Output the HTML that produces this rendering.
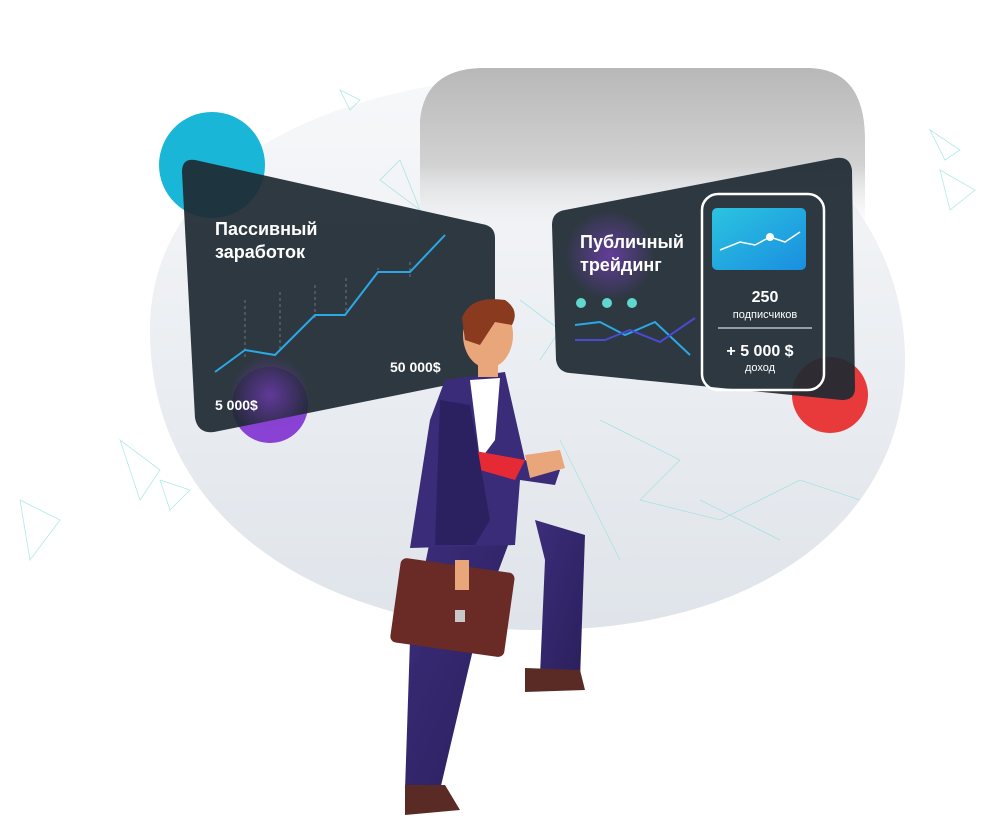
<!DOCTYPE html>
<html><head><meta charset="utf-8">
<style>
html,body{margin:0;padding:0;background:#fff;}
svg{display:block;}
text{font-family:"Liberation Sans",sans-serif;}
</style></head>
<body>
<svg width="986" height="830" viewBox="0 0 986 830" xmlns="http://www.w3.org/2000/svg">
<defs>
<linearGradient id="bg" x1="0" y1="0" x2="0" y2="1">
<stop offset="0" stop-color="#f7f8fa"/><stop offset="1" stop-color="#dfe4ea"/>
</linearGradient>
<linearGradient id="top" x1="0" y1="0" x2="0" y2="1">
<stop offset="0" stop-color="#b8b8b8"/><stop offset="0.6" stop-color="#d2d2d2"/><stop offset="1" stop-color="#eceef1" stop-opacity="0"/>
</linearGradient>
<linearGradient id="card" x1="0" y1="0" x2="1" y2="1">
<stop offset="0" stop-color="#2bc4e0"/><stop offset="1" stop-color="#1a8ee0"/>
</linearGradient>
<linearGradient id="suit" x1="0" y1="0" x2="1" y2="1">
<stop offset="0" stop-color="#3c2d7a"/><stop offset="1" stop-color="#2a1f5c"/>
</linearGradient>
<radialGradient id="glow" cx="0.5" cy="0.5" r="0.5">
<stop offset="0" stop-color="#7a3fc0" stop-opacity="0.7"/><stop offset="1" stop-color="#7a3fc0" stop-opacity="0"/>
</radialGradient>
</defs>
<path d="M520 75 C760 60 905 200 905 360 C905 520 760 630 540 630 C320 630 150 520 150 330 C150 180 300 90 520 75Z" fill="url(#bg)"/>
<path d="M480 68 L810 68 Q865 70 865 140 L865 230 L420 230 L420 120 Q425 70 480 68Z" fill="url(#top)"/>
<g stroke="#8fe0e0" stroke-width="0.8" fill="none" opacity="0.7">
<path d="M340 90 L360 100 L350 110Z M380 180 L420 210 L400 160Z M930 130 L960 150 L945 160Z M940 170 L975 190 L950 210Z M120 440 L160 470 L140 500Z M20 500 L60 520 L30 560Z M160 480 L190 490 L170 510Z M600 420 L680 460 L640 500 L720 520 L800 480 L860 500 M560 440 L620 560 M700 500 L780 540 M520 300 L560 330 L540 360"/>
</g>
<circle cx="212" cy="165" r="53" fill="#19b6d8"/>
<circle cx="270" cy="405" r="38" fill="#8a42d4"/>
<path d="M195 160 Q182 158 182 172 L195 418 Q198 434 214 432 L482 378 Q495 375 495 362 L495 238 Q495 226 482 224 Z" fill="#1f2a33" opacity="0.93"/>
<circle cx="270" cy="395" r="40" fill="url(#glow)"/>
<g stroke="#6b7780" stroke-width="1" stroke-dasharray="3 3">
<path d="M245 300 L245 360 M280 292 L280 350 M315 285 L315 318 M346 278 L346 315 M378 270 L378 268 M410 262 L410 278"/>
</g>
<polyline points="215,372 245,350 275,355 315,315 345,315 378,272 410,272 445,235" fill="none" stroke="#2aa9e6" stroke-width="2"/>
<text x="215" y="235" fill="#fff" font-size="18" font-weight="600">Пассивный</text>
<text x="215" y="258" fill="#fff" font-size="18" font-weight="600">заработок</text>
<text x="215" y="410" fill="#fff" font-size="14" font-weight="bold">5 000$</text>
<text x="390" y="372" fill="#fff" font-size="14" font-weight="bold">50 000$</text>
<circle cx="830" cy="395" r="38" fill="#e83a3a"/>
<path d="M565 210 Q552 212 552 225 L556 360 Q558 372 570 373 L842 400 Q855 400 855 388 L852 170 Q850 156 836 158 Z" fill="#1f2a33" opacity="0.93"/>
<circle cx="610" cy="255" r="45" fill="url(#glow)"/>
<text x="580" y="248" fill="#fff" font-size="18" font-weight="600">Публичный</text>
<text x="580" y="271" fill="#fff" font-size="18" font-weight="600">трейдинг</text>
<circle cx="581" cy="303" r="5" fill="#5fd8d0"/>
<circle cx="607" cy="303" r="5" fill="#5fd8d0"/>
<circle cx="632" cy="303" r="5" fill="#5fd8d0"/>
<polyline points="575,325 600,322 625,335 655,322 690,355" fill="none" stroke="#2aa9e6" stroke-width="2"/>
<polyline points="575,340 605,340 630,330 660,342 695,318" fill="none" stroke="#4a4ad0" stroke-width="2"/>
<rect x="702" y="194" width="122" height="196" rx="16" fill="none" stroke="#fff" stroke-width="2.5"/>
<rect x="712" y="208" width="94" height="62" rx="5" fill="url(#card)"/>
<polyline points="720,250 740,242 755,245 770,237 785,242 800,232" fill="none" stroke="#fff" stroke-width="1.5"/>
<circle cx="770" cy="237" r="4" fill="#fff"/>
<text x="765" y="302" fill="#fff" font-size="16" font-weight="bold" text-anchor="middle">250</text>
<text x="765" y="318" fill="#fff" font-size="11" text-anchor="middle">подписчиков</text>
<line x1="718" y1="328" x2="812" y2="328" stroke="#fff" stroke-width="1"/>
<text x="760" y="356" fill="#fff" font-size="16" font-weight="bold" text-anchor="middle">+ 5 000 $</text>
<text x="760" y="371" fill="#fff" font-size="11" text-anchor="middle">доход</text>
<!-- man -->
<path d="M535 520 L585 535 L580 680 L540 675 L545 560 Z" fill="url(#suit)"/>
<path d="M525 668 L580 670 L585 690 L525 692 Z" fill="#5a2a24"/>
<path d="M430 540 L510 540 L480 620 L440 790 L405 790 L410 640 Z" fill="url(#suit)"/>
<path d="M405 785 L445 785 L460 810 L405 815 Z" fill="#5a2a24"/>
<path d="M445 380 L505 372 L525 460 L560 470 L555 485 L520 480 L515 545 L410 548 L430 420 Z" fill="#3a2c78"/>
<path d="M470 380 L500 378 L495 440 L480 460 Z" fill="#fff"/>
<path d="M470 450 L525 460 L515 480 L480 470 Z" fill="#e52a35"/>
<path d="M440 400 L470 405 L490 520 L475 545 L435 545 Z" fill="#2c2160"/>
<path d="M525 455 L560 450 L565 468 L530 478 Z" fill="#e8a67a"/>
<ellipse cx="488" cy="335" rx="25" ry="33" fill="#e8a67a"/>
<path d="M462 318 Q470 295 505 300 Q520 310 512 325 L495 322 L480 345 L465 340 Z" fill="#8a3b1f"/>
<rect x="478" y="355" width="20" height="22" fill="#e8a67a"/>
<rect x="395" y="565" width="115" height="85" rx="6" fill="#6a2a26" transform="rotate(8 452 607)"/>
<rect x="455" y="560" width="14" height="30" fill="#e8a67a"/>
<rect x="455" y="610" width="10" height="12" fill="#c8c8c8"/>
</svg>
</body></html>
